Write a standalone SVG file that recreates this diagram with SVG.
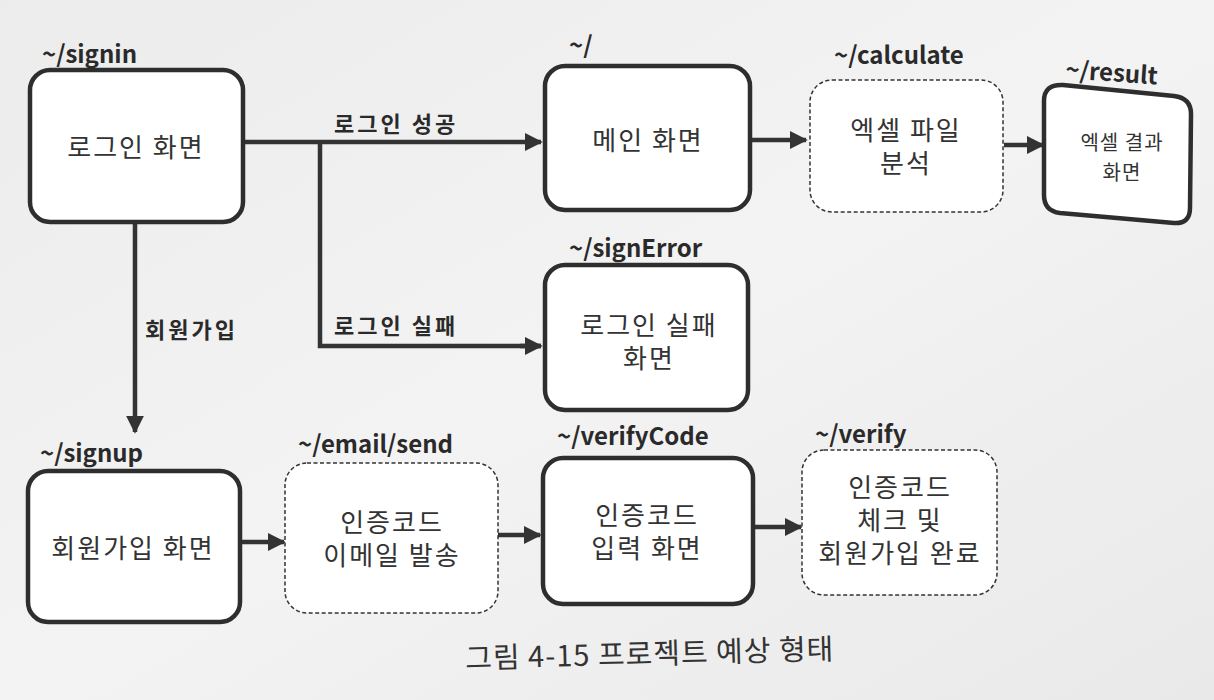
<svg xmlns="http://www.w3.org/2000/svg" width="1214" height="700" viewBox="0 0 1214 700">
<defs>
<linearGradient id="bg" x1="0" y1="0" x2="1" y2="1">
<stop offset="0" stop-color="#ececec"/>
<stop offset="0.5" stop-color="#f3f3f3"/>
<stop offset="1" stop-color="#e9e9e9"/>
</linearGradient>
<marker id="ah" viewBox="0 0 10 10" refX="9" refY="5" markerWidth="4" markerHeight="4" orient="auto" markerUnits="strokeWidth">
<path d="M0,0 L10,5 L0,10 Z" fill="#333"/>
</marker>
<style>
.box{fill:#fff;stroke:#2e2e2e;stroke-width:4.5}
.dbox{fill:#fff;stroke:#333;stroke-width:1.5;stroke-dasharray:4 2.5}
.route{font-family:"Noto Sans CJK KR","Noto Sans",sans-serif;font-weight:bold;font-size:24px;fill:#2a2a2a}
.lbl{font-family:"Noto Sans CJK KR",sans-serif;font-weight:bold;font-size:22px;letter-spacing:3px;fill:#2a2a2a}
.txt{font-family:"Noto Sans CJK KR",sans-serif;font-size:26px;letter-spacing:2px;fill:#333;text-anchor:middle}
.stxt{font-family:"Noto Sans CJK KR",sans-serif;font-size:20px;letter-spacing:1px;fill:#333;text-anchor:middle}
.cap{font-family:"Noto Sans CJK KR",sans-serif;font-size:29px;letter-spacing:1px;fill:#333;text-anchor:middle}
.con{fill:none;stroke:#333;stroke-width:4.5}
</style>
</defs>
<rect width="1214" height="700" fill="url(#bg)"/>

<g id="connectors">
<path class="con" d="M243,142 L541,142" marker-end="url(#ah)"/>
<path class="con" d="M320,142 L320,346 L541,346"/>
<path class="con" d="M520,346 L541,346" marker-end="url(#ah)"/>
<path class="con" d="M135,222 L135,432" marker-end="url(#ah)"/>
<path class="con" d="M752,140 L806,140" marker-end="url(#ah)"/>
<path class="con" d="M1004,145 L1043,145" marker-end="url(#ah)"/>
<path class="con" d="M240,542 L284,542" marker-end="url(#ah)"/>
<path class="con" d="M498,535 L540,535" marker-end="url(#ah)"/>
<path class="con" d="M753,527 L801,527" marker-end="url(#ah)"/>
<text class="lbl" x="334" y="132">로그인 성공</text>
<text class="lbl" x="334" y="334">로그인 실패</text>
<text class="lbl" x="145" y="338">회원가입</text>
</g>

<g id="signin">
<text class="route" x="42" y="63">~/signin</text>
<rect class="box" x="30" y="70" width="213" height="152" rx="20"/>
<text class="txt" x="136" y="157">로그인 화면</text>
</g>

<g id="main">
<text class="route" x="569" y="54">~/</text>
<rect class="box" x="545" y="66" width="205" height="144" rx="20"/>
<text class="txt" x="648" y="150">메인 화면</text>
</g>

<g id="calculate">
<text class="route" x="834" y="64">~/calculate</text>
<rect class="dbox" x="810" y="80" width="193" height="132" rx="22"/>
<text class="txt" x="906" y="140">엑셀 파일</text>
<text class="txt" x="906" y="173">분석</text>
</g>

<g id="result">
<text class="route" x="1065" y="78" transform="rotate(4 1065 78)">~/result</text>
<path class="box" d="M1063,85 L1174,96 Q1191,98 1191,114 L1190,208 Q1190,224 1174,223 L1060,213 Q1044,211 1044,195 L1044,101 Q1044,84 1063,85 Z"/>
<text class="stxt" x="1122" y="150">엑셀 결과</text>
<text class="stxt" x="1122" y="180">화면</text>
</g>

<g id="signError">
<text class="route" x="569" y="257">~/signError</text>
<rect class="box" x="545" y="265" width="203" height="145" rx="20"/>
<text class="txt" x="649" y="335">로그인 실패</text>
<text class="txt" x="649" y="368">화면</text>
</g>

<g id="signup">
<text class="route" x="40" y="462">~/signup</text>
<rect class="box" x="28" y="471" width="212" height="151" rx="20"/>
<text class="txt" x="133" y="558">회원가입 화면</text>
</g>

<g id="emailSend">
<text class="route" x="298" y="453">~/email/send</text>
<rect class="dbox" x="285" y="463" width="213" height="150" rx="22"/>
<text class="txt" x="392" y="532">인증코드</text>
<text class="txt" x="392" y="565">이메일 발송</text>
</g>

<g id="verifyCode">
<text class="route" x="557" y="445">~/verifyCode</text>
<rect class="box" x="543" y="458" width="210" height="146" rx="20"/>
<text class="txt" x="647" y="525">인증코드</text>
<text class="txt" x="647" y="558">입력 화면</text>
</g>

<g id="verify">
<text class="route" x="815" y="443">~/verify</text>
<rect class="dbox" x="802" y="450" width="195" height="145" rx="22"/>
<text class="txt" x="900" y="497">인증코드</text>
<text class="txt" x="900" y="530">체크 및</text>
<text class="txt" x="900" y="563">회원가입 완료</text>
</g>

<text class="cap" x="650" y="664" transform="rotate(-1.5 650 664)">그림 4-15 프로젝트 예상 형태</text>
</svg>
